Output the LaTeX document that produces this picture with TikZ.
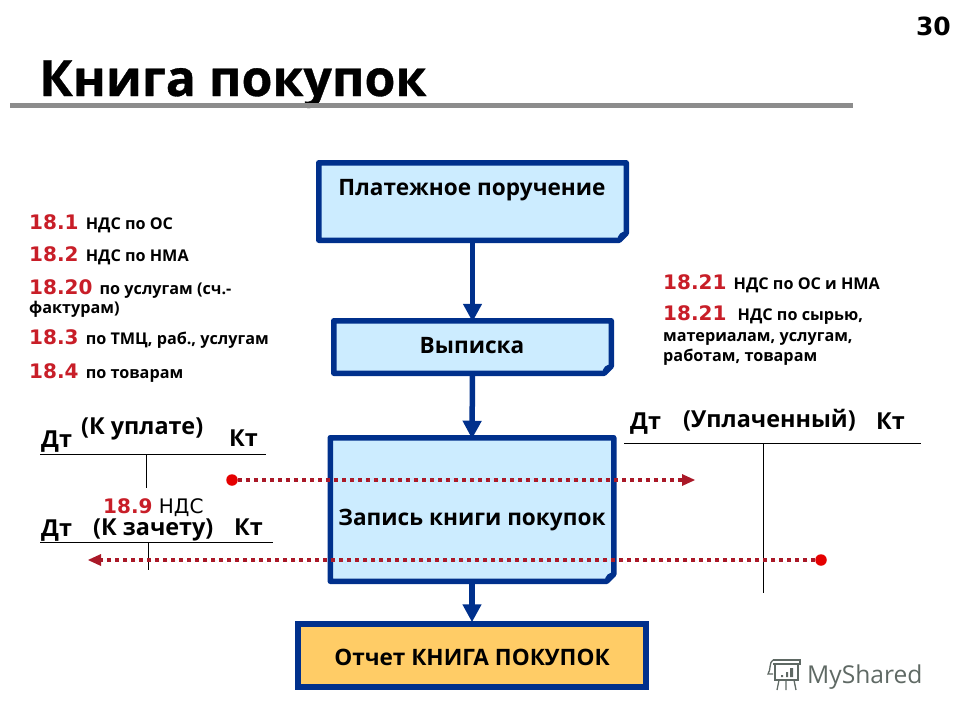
\documentclass[tikz,border=0pt]{standalone}
\usepackage{fontspec}
\setmainfont{Open Sans}
\newfontfamily\wmfont{Open Sans}
\newfontfamily\numfont{DejaVu Sans}
\newfontfamily\titlefont[BoldFeatures={FakeBold=0.7}]{Open Sans}
\usetikzlibrary{arrows.meta}
\definecolor{navy}{RGB}{0,48,140}
\definecolor{pale}{RGB}{204,236,255}
\definecolor{gold}{RGB}{255,204,102}
\definecolor{redn}{RGB}{200,30,40}
\definecolor{dotred}{RGB}{170,25,40}
\definecolor{greybar}{RGB}{140,140,140}
\definecolor{wm}{RGB}{95,105,100}
\newcommand{\fs}[1]{\fontsize{#1}{#1}\selectfont}
\newcommand{\nm}[1]{\textcolor{redn}{\numfont\fs{20}#1}\hspace{3pt}}
\newcommand{\foldbox}[1]{%
  \draw[navy,line width=5.5pt,line join=round,fill=pale]
    (#1.north west) -- (#1.north east) -- ([yshift=7pt]#1.south east)
    -- ([xshift=-7pt]#1.south east) -- (#1.south west) -- cycle;
  \fill[navy] ([xshift=-9pt,yshift=-1pt]#1.south east) -- ([xshift=1pt,yshift=9pt]#1.south east)
    .. controls ([xshift=-5pt,yshift=9pt]#1.south east) and ([xshift=-9pt,yshift=6pt]#1.south east) .. cycle;
}
\tikzset{
  boxshape/.style={rectangle,inner sep=0pt,outer sep=2.75pt},
  boxlabel/.style={inner sep=0pt,anchor=base,font=\bfseries\fs{22.6}},
  flow/.style={navy,line width=5.5pt,-{Triangle[length=18pt,width=18pt]},shorten >=-1pt},
  dotline/.style={dotred,line width=3.2pt,dash pattern=on 4pt off 4pt},
  dotarrow/.style={dotred,fill=dotred},
  startdot/.style={circle,fill=red!90!black,inner sep=0pt,minimum size=11.5pt},
  acct/.style={black,line width=0.8pt},
  acctlab/.style={inner sep=0pt,anchor=base west,font=\bfseries\fs{23.4}},
  side/.style={inner sep=0pt,anchor=base west,font=\bfseries\fs{16.2}},
}
\begin{document}
\begin{tikzpicture}[x=1pt,y=-1pt]
\useasboundingbox (0,0) rectangle (960,720);
% title
\node[inner sep=0pt,anchor=base west,font=\titlefont\bfseries\fs{50}] (title) at (39,96) {Книга покупок};
\node[inner sep=0pt,anchor=base east,font=\numfont\bfseries\fs{25}] (page) at (951,35) {30};
\coordinate (barl) at (10,105); \coordinate (barr) at (853,105);
\draw[greybar,line width=5pt] (barl) -- (barr);
% boxes
\node[boxshape,minimum width=302pt,minimum height=72pt] (pay) at (472.5,201.5) {};
\node[boxshape,minimum width=272pt,minimum height=47pt] (ext) at (472.5,347) {};
\node[boxshape,minimum width=278pt,minimum height=138pt] (rec) at (472,509.5) {};
\node[rectangle,draw=navy,line width=5.5pt,fill=gold,minimum width=348pt,minimum height=63pt,inner sep=0pt,outer sep=2.75pt] (rep) at (472,655.5) {};
\foldbox{pay}\foldbox{ext}\foldbox{rec}
\node[boxlabel] (payt) at (472,195) {Платежное поручение};
\node[boxlabel] (extt) at (472,353) {Выписка};
\node[boxlabel] (rect) at (472,525) {Запись книги покупок};
\node[boxlabel] (rept) at (472,665) {Отчет КНИГА ПОКУПОК};
% flow
\draw[flow] (pay.south) -- (ext.north);
\draw[flow] (ext.south) -- (rec.north);
\draw[flow] (rec.south) -- (rep.north);
% left list
\node[side] (l1) at (29,229) {\nm{18.1} НДС по ОС};
\node[side] (l2) at (29,261) {\nm{18.2} НДС по НМА};
\node[side] (l3) at (29,294) {\nm{18.20} по услугам (сч.-};
\node[side] (l3b) at (29,313) {фактурам)};
\node[side] (l4) at (29,344) {\nm{18.3} по ТМЦ, раб., услугам};
\node[side] (l5) at (29,378) {\nm{18.4} по товарам};
% right list
\node[side] (r1) at (663,289) {\nm{18.21} НДС по ОС и НМА};
\node[side] (r2) at (663,320) {\nm{18.21} \hspace{4pt}НДС по сырью,};
\node[side] (r3) at (663,341) {материалам, услугам,};
\node[side] (r4) at (663,361) {работам, товарам};
% T accounts left top
\node[acctlab] (d1) at (41,447) {Дт};
\node[acctlab] (u1) at (81,434) {(К уплате)};
\node[acctlab] (k1) at (229,446) {Кт};
\coordinate (a1l) at (40,454); \coordinate (a1r) at (266,454);
\coordinate (a1t) at (146,454); \coordinate (a1b) at (146,488);
\draw[acct] (a1l) -- (a1r); \draw[acct] (a1t) -- (a1b);
% T accounts left bottom
\node[inner sep=0pt,anchor=base west,font=\numfont\fs{20}] (n9) at (103,513) {\textcolor{redn}{\bfseries 18.9} НДС};
\node[acctlab] (d2) at (41,536) {Дт};
\node[acctlab] (u2) at (93,535) {(К зачету)};
\node[acctlab] (k2) at (234,535) {Кт};
\coordinate (a2l) at (40,542); \coordinate (a2r) at (273,542);
\coordinate (a2t) at (148,542); \coordinate (a2b) at (148,570);
\draw[acct] (a2l) -- (a2r); \draw[acct] (a2t) -- (a2b);
% T account right
\node[acctlab] (d3) at (630,429) {Дт};
\node[acctlab] (u3) at (683,427) {(Уплаченный)};
\node[acctlab] (k3) at (876,429) {Кт};
\coordinate (a3l) at (624,443); \coordinate (a3r) at (921,443);
\coordinate (a3t) at (763,443); \coordinate (a3b) at (763,593);
\draw[acct] (a3l) -- (a3r); \draw[acct] (a3t) -- (a3b);
% dotted connectors
\node[startdot] (s1) at (232,480) {};
\coordinate (e1) at (695,480);
\draw[dotline] (s1) -- ([xshift=-10pt]e1);
\fill[dotarrow] (e1) -- ++(-13,-6) -- ++(0,12) -- cycle;
\node[startdot] (s2) at (821,560) {};
\coordinate (e2) at (88,560);
\draw[dotline] (s2) -- ([xshift=10pt]e2);
\fill[dotarrow] (e2) -- ++(13,-6) -- ++(0,12) -- cycle;
% watermark
\node[inner sep=0pt,anchor=base west,text=wm,font=\wmfont\fs{24.6}] (wmt) at (807,683) {MyShared};
\begin{scope}[wm,line width=1.3pt]
\draw (773,660) -- (800,660) -- (800,664) -- (773,664);
\draw (773,660) .. controls (769,662) and (771,670) .. (768,674) -- (773,674);
\draw (775,664) -- (775,680) -- (798,680) -- (798,664);
\fill (781,675) rectangle (783,677) (786,672) rectangle (788,677) (790,668) rectangle (793,677);
\draw (779,680) -- (777,690) (786,680) -- (786,690) (794,680) -- (796,690);
\end{scope}
\end{tikzpicture}
\end{document}
